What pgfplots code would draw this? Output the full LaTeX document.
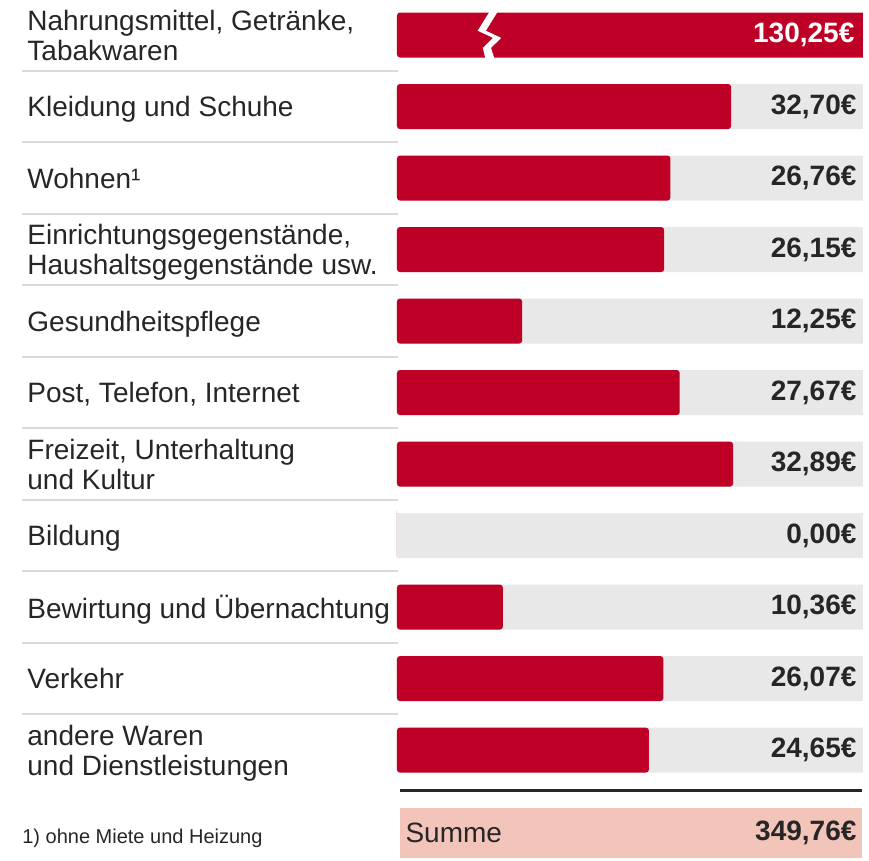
\documentclass[border=0pt]{standalone}
\usepackage{fontspec}
\setmainfont{Liberation Sans}
\usepackage{pgfplots}
\pgfplotsset{compat=1.18}

\definecolor{barred}{RGB}{190,0,38}
\definecolor{track}{RGB}{232,232,232}
\definecolor{sepgray}{RGB}{218,218,218}
\definecolor{sumpink}{RGB}{242,196,186}

\newcommand{\lblfont}{\fontsize{14pt}{15pt}\selectfont}

\begin{document}
\begin{tikzpicture}
\begin{axis}[
  scale only axis,
  width=233pt, height=430.5pt,
  xmin=0, xmax=45.6,
  ymin=-0.49, ymax=11.55,
  y dir=reverse,
  axis line style={draw=none},
  major tick length=0pt,
  xtick=\empty,
  ytick={0,...,10},
  yticklabels={
    {Nahrungsmittel, Getränke,\\Tabakwaren},
    {Kleidung und Schuhe},
    {Wohnen¹},
    {Einrichtungsgegenstände,\\Haushaltsgegenstände usw.},
    {Gesundheitspflege},
    {Post, Telefon, Internet},
    {Freizeit, Unterhaltung\\und Kultur},
    {Bildung},
    {Bewirtung und Übernachtung},
    {Verkehr},
    {andere Waren\\und Dienstleistungen}
  },
  yticklabel style={anchor=west, align=left, inner sep=0pt, text depth=0pt,
    xshift=-185pt, font=\lblfont, text=black!85},
  clip mode=individual,
]
% grey tracks
\addplot[xbar, bar width=22.5pt, bar shift=0pt, fill=track, draw=none]
  coordinates {(45.6,1) (45.6,2) (45.6,3) (45.6,4) (45.6,5)
               (45.6,6) (45.6,7) (45.6,8) (45.6,9) (45.6,10)};
% values
\addplot[xbar, bar width=22.5pt, bar shift=0pt, fill=barred, draw=none,
  rounded corners=1.5pt]
  coordinates {(130.25,0) (32.70,1) (26.76,2) (26.15,3) (12.25,4)
               (27.67,5) (32.89,6) (0,7) (10.36,8) (26.07,9) (24.65,10)};
% value labels
\addplot[draw=none, mark=none, nodes near coords, point meta=explicit symbolic,
  nodes near coords style={anchor=east, inner sep=0pt,
    font=\lblfont\bfseries, text=black!85}]
  table[meta=lab] {
x y lab
45.0 1 32,70€
45.0 2 26,76€
45.0 3 26,15€
45.0 4 12,25€
45.0 5 27,67€
45.0 6 32,89€
45.0 7 0,00€
45.0 8 10,36€
45.0 9 26,07€
45.0 10 24,65€
};
\addplot[draw=none, mark=none, nodes near coords, point meta=explicit symbolic,
  nodes near coords style={anchor=east, inner sep=0pt,
    font=\lblfont\bfseries, text=white}]
  table[meta=lab] {
x y lab
44.8 0 130,25€
};
% break in the first bar
\fill[white] (axis cs:9.2,-0.36) -- (axis cs:7.9,-0.06) -- (axis cs:9.4,0.04)
  -- (axis cs:8.4,0.18) -- (axis cs:8.7,0.36) -- (axis cs:9.6,0.36)
  -- (axis cs:9.2,0.18) -- (axis cs:10.2,0.04) -- (axis cs:8.7,-0.06)
  -- (axis cs:10.0,-0.36) -- cycle;
% row separators
\pgfplotsinvokeforeach{0,...,9}{
  \draw[sepgray, line width=1pt] (axis cs:-36.7,#1.5) -- (axis cs:0.1,#1.5);
}
% sum row
\draw[black!85, line width=1.5pt] (axis cs:0.3,10.56) -- (axis cs:45.5,10.56);
\fill[sumpink] (axis cs:0.3,10.81) rectangle (axis cs:45.5,11.51);
\node[anchor=west, inner sep=0pt, font=\lblfont, text=black!85]
  at (axis cs:0.8,11.16) {Summe};
\node[anchor=east, inner sep=0pt, font=\lblfont\bfseries, text=black!85]
  at (axis cs:45.0,11.16) {349,76€};
\node[anchor=west, inner sep=0pt, font=\fontsize{10pt}{12pt}\selectfont,
  text=black!85] at (axis cs:-36.7,11.23) {1) ohne Miete und Heizung};
\coordinate (bbA) at (axis cs:-38.85,-0.49);
\coordinate (bbB) at (axis cs:46.19,11.55);
\end{axis}
\pgfresetboundingbox
\path[use as bounding box] (bbA) rectangle (bbB);
\end{tikzpicture}
\end{document}
